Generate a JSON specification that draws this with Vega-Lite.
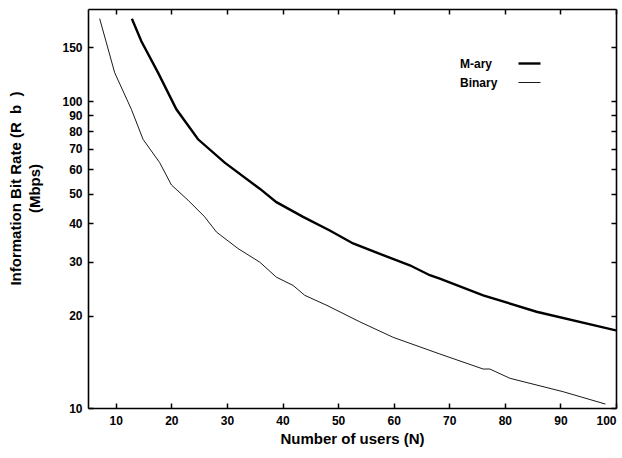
{
  "$schema": "https://vega.github.io/schema/vega-lite/v6.json",
  "width": 528,
  "height": 399,
  "autosize": "none",
  "padding": {"left": 88, "top": 9, "right": 6, "bottom": 50},
  "background": "white",
  "config": {
    "font": "Liberation Sans",
    "view": {"stroke": null},
    "axis": {
      "domainColor": "black", "domainWidth": 1.6,
      "tickColor": "black", "tickWidth": 1.5, "tickSize": -5,
      "labelFont": "Liberation Sans", "labelFontWeight": "bold", "labelFontSize": 12, "labelColor": "black",
      "titleFont": "Liberation Sans", "titleFontWeight": "bold", "titleFontSize": 15, "titleColor": "black",
      "grid": false
    }
  },
  "data": {"values": [
    {"N": 12.9, "Rb": 186, "series": "M-ary"},
    {"N": 14.6, "Rb": 157, "series": "M-ary"},
    {"N": 17.6, "Rb": 124, "series": "M-ary"},
    {"N": 20.9, "Rb": 94.2, "series": "M-ary"},
    {"N": 24.8, "Rb": 75.2, "series": "M-ary"},
    {"N": 29.6, "Rb": 63.1, "series": "M-ary"},
    {"N": 35.9, "Rb": 51.9, "series": "M-ary"},
    {"N": 38.9, "Rb": 46.9, "series": "M-ary"},
    {"N": 43.7, "Rb": 42.0, "series": "M-ary"},
    {"N": 48.5, "Rb": 37.9, "series": "M-ary"},
    {"N": 52.7, "Rb": 34.4, "series": "M-ary"},
    {"N": 58.1, "Rb": 31.5, "series": "M-ary"},
    {"N": 62.9, "Rb": 29.2, "series": "M-ary"},
    {"N": 66.5, "Rb": 27.1, "series": "M-ary"},
    {"N": 68.3, "Rb": 26.4, "series": "M-ary"},
    {"N": 76.1, "Rb": 23.3, "series": "M-ary"},
    {"N": 85.7, "Rb": 20.6, "series": "M-ary"},
    {"N": 100, "Rb": 17.9, "series": "M-ary"},
    {"N": 7.1, "Rb": 186, "series": "Binary"},
    {"N": 9.8, "Rb": 124, "series": "Binary"},
    {"N": 12.8, "Rb": 94.2, "series": "Binary"},
    {"N": 14.9, "Rb": 75.2, "series": "Binary"},
    {"N": 17.9, "Rb": 63.1, "series": "Binary"},
    {"N": 20.0, "Rb": 53.4, "series": "Binary"},
    {"N": 23.0, "Rb": 47.6, "series": "Binary"},
    {"N": 26.0, "Rb": 42.0, "series": "Binary"},
    {"N": 28.1, "Rb": 37.5, "series": "Binary"},
    {"N": 32.0, "Rb": 33.1, "series": "Binary"},
    {"N": 35.9, "Rb": 29.9, "series": "Binary"},
    {"N": 38.9, "Rb": 26.7, "series": "Binary"},
    {"N": 41.9, "Rb": 25.1, "series": "Binary"},
    {"N": 44.0, "Rb": 23.3, "series": "Binary"},
    {"N": 48.0, "Rb": 21.6, "series": "Binary"},
    {"N": 53.9, "Rb": 19.1, "series": "Binary"},
    {"N": 59.9, "Rb": 17.0, "series": "Binary"},
    {"N": 68.3, "Rb": 15.0, "series": "Binary"},
    {"N": 76.1, "Rb": 13.4, "series": "Binary"},
    {"N": 77.3, "Rb": 13.4, "series": "Binary"},
    {"N": 80.9, "Rb": 12.5, "series": "Binary"},
    {"N": 90.5, "Rb": 11.3, "series": "Binary"},
    {"N": 98.1, "Rb": 10.3, "series": "Binary"}
  ]},
  "layer": [
    {
      "mark": {"type": "line", "clip": true},
      "encoding": {
        "x": {"field": "N", "type": "quantitative",
          "scale": {"domain": [5, 100], "nice": false, "zero": false},
          "axis": {"orient": "bottom", "title": "Number of users (N)", "values": [10,20,30,40,50,60,70,80,90,100], "labelPadding": 12, "titlePadding": 5}},
        "y": {"field": "Rb", "type": "quantitative",
          "scale": {"type": "log", "domain": [10, 200], "nice": false},
          "axis": {"orient": "left", "title": ["Information Bit Rate (R\u00a0\u00a0b\u00a0\u00a0)", "(Mbps)"], "values": [10,20,30,40,50,60,70,80,90,100,150], "format": "d", "labelPadding": 11, "titlePadding": 19, "titleLineHeight": 19, "titleY": 179}},
        "color": {"field": "series", "type": "nominal",
          "scale": {"domain": ["M-ary", "Binary"], "range": ["black", "black"]},
          "legend": {"title": null, "orient": "none", "legendX": 429, "legendY": 42,
            "symbolType": "stroke", "symbolSize": 484, "symbolStrokeWidth": 2,
            "labelAlign": "left", "labelOffset": -82,
            "labelFont": "Liberation Sans", "labelFontWeight": "bold", "labelFontSize": 12, "labelColor": "black",
            "rowPadding": 1}},
        "strokeWidth": {"field": "series", "type": "nominal",
          "scale": {"domain": ["M-ary", "Binary"], "range": [2.4, 0.9]},
          "legend": null}
      }
    },
    {
      "mark": {"type": "rule", "opacity": 0},
      "encoding": {
        "x": {"datum": 50, "type": "quantitative",
          "axis": {"orient": "top", "title": null, "labels": false, "values": [10,20,30,40,50,60,70,80,90,100]}},
        "y": {"datum": 50, "type": "quantitative",
          "axis": {"orient": "right", "title": null, "labels": false, "values": [10,20,30,40,50,60,70,80,90,100,150]}}
      }
    }
  ],
  "resolve": {"axis": {"x": "independent", "y": "independent"}}
}
